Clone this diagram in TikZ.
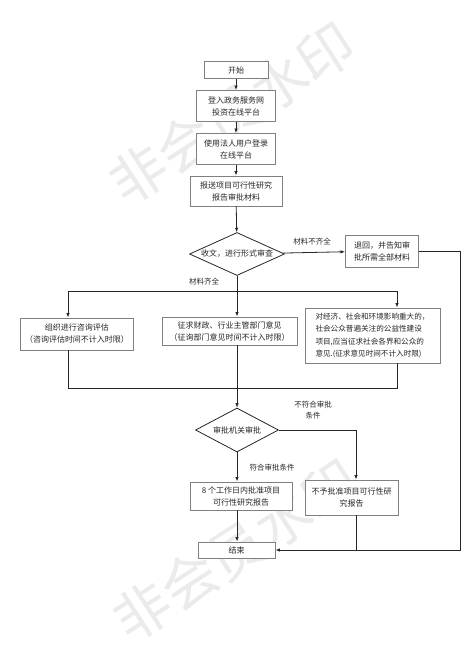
\documentclass[tikz,border=0pt]{standalone}
\usepackage{fontspec}
\setmainfont{Liberation Sans}
\newfontfamily\cjk{Noto Sans CJK SC}
\usetikzlibrary{shapes.geometric,arrows.meta}
\begin{document}
\begin{tikzpicture}[x=1pt,y=-1pt,
  box/.style={draw=black!50, line width=0.9pt, fill=white, inner sep=1pt,
    font=\cjk\fontsize{8}{12}\selectfont, text=black!85, align=center},
  dia/.style={draw=black!85, line width=0.8pt, diamond, aspect=2.2, fill=white, inner sep=0pt,
    font=\cjk\fontsize{8}{10}\selectfont, text=black!85},
  conn/.style={draw=black!85, line width=0.8pt},
  arr/.style={conn, -{Latex[length=4.5pt,width=3.5pt]}},
  lab/.style={font=\cjk\fontsize{7.5}{11}\selectfont, text=black!85, align=center},
  wm/.style={font=\cjk\fontsize{56}{56}\selectfont, text=black!8, rotate=33}]
\useasboundingbox (0,0) rectangle (474,670);
\fill[white] (0,0) rectangle (474,670);
% watermarks
\node[wm] (wm1) at (232,113) {非会员水印};
\node[wm] (wm2) at (236,550) {非会员水印};
% nodes
\node[box, minimum width=64pt, minimum height=17pt] (start) at (236,70) {开始};
\node[box, minimum width=79pt, minimum height=31pt] (b2) at (236,106) {登入政务服务网\\投资在线平台};
\node[box, minimum width=79pt, minimum height=31pt] (b3) at (236,149) {使用法人用户登录\\在线平台};
\node[box, minimum width=92pt, minimum height=30pt] (b4) at (236,191) {报送项目可行性研究\\报告审批材料};
\node[dia, minimum width=95pt, minimum height=43pt] (d1) at (237,254) {收文，进行形式审查};
\node[box, minimum width=73pt, minimum height=32pt] (r1) at (382,251) {退回，并告知审\\批所需全部材料};
\node[lab] (l1) at (312,242) {材料不齐全};
\node[lab] (l2) at (204,282) {材料齐全};
\node[box, minimum width=113pt, minimum height=32pt] (L) at (77,334) {组织进行咨询评估\\（咨询评估时间不计入时限）};
\node[box, minimum width=135pt, minimum height=28pt] (M) at (229.5,331) {征求财政、行业主管部门意见\\（征询部门意见时间不计入时限）};
\node[box, minimum width=135pt, minimum height=55pt, align=left, font=\cjk\fontsize{7.6}{12.5}\selectfont] (R) at (372.5,335.5)
  {对经济、社会和环境影响重大的，\\社会公众普遍关注的公益性建设\\项目,应当征求社会各界和公众的\\意见.(征求意见时间不计入时限)};
\node[dia, minimum width=83pt, minimum height=44pt] (d2) at (237,430) {审批机关审批};
\node[lab] (l3) at (313,410) {不符合审批\\条件};
\node[lab] (l4) at (272,468) {符合审批条件};
\node[box, minimum width=102pt, minimum height=28pt] (A) at (241,496) {8 个工作日内批准项目\\可行性研究报告};
\node[box, minimum width=93pt, minimum height=35pt] (N) at (351.5,497.5) {不予批准项目可行性研\\究报告};
\node[box, minimum width=77pt, minimum height=16pt] (E) at (236.5,550) {结束};
% coordinates
\coordinate (jtop) at (237,291);
\coordinate (jl) at (68,291);
\coordinate (jr) at (397,291);
\coordinate (ml) at (68,388);
\coordinate (mr) at (397,388);
\coordinate (mm) at (237,388);
\coordinate (rt) at (460,251);
\coordinate (rb) at (460,550);
\coordinate (nb) at (356,550);
\coordinate (d2r) at (356,430);
% connectors
\draw[arr] (start) -- (b2);
\draw[arr] (b2) -- (b3);
\draw[arr] (b3) -- (b4);
\draw[arr] (b4) -- (d1);
\draw[arr] (d1) -- (r1);
\draw[conn] (d1.south) -- (jtop);
\draw[conn] (jl) -- (jr);
\draw[arr] (jl) -- (jl |- L.north);
\draw[arr] (jtop) -- (jtop |- M.north);
\draw[arr] (jr) -- (jr |- R.north);
\draw[conn] (ml |- L.south) -- (ml) -- (mr) -- (mr |- R.south);
\draw[arr] (mm |- M.south) -- (d2.north);
\draw[conn] (d2.east) -- (d2r);
\draw[arr] (d2r) -- (d2r |- N.north);
\draw[arr] (d2.south) -- (d2.south |- A.north);
\draw[arr] (A.south -| d2.south) -- (E.north -| d2.south);
\draw[conn] (r1.east) -- (rt) -- (rb) -- (nb);
\draw[conn] (nb |- N.south) -- (nb);
\draw[arr] (nb) -- (E.east);
\end{tikzpicture}
\end{document}
